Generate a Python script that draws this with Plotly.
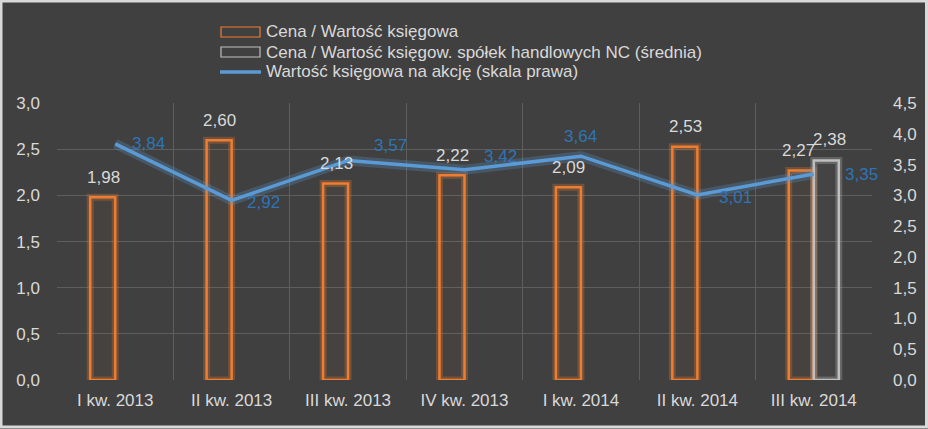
import plotly.graph_objects as go

categories = ["I kw. 2013", "II kw. 2013", "III kw. 2013", "IV kw. 2013", "I kw. 2014", "II kw. 2014", "III kw. 2014"]
pbv_company = [1.98, 2.60, 2.13, 2.22, 2.09, 2.53, 2.27]
pbv_nc_avg = [None, None, None, None, None, None, 2.38]
bv_per_share = [3.84, 2.92, 3.57, 3.42, 3.64, 3.01, 3.35]

series_names = [
    "Cena / Wartość księgowa",
    "Cena / Wartość księgow. spółek handlowych NC (średnia)",
    "Wartość księgowa na akcję (skala prawa)",
]

FONT = "Liberation Sans Narrow, Arial Narrow, sans-serif"
TXT = "#d9d9d9"
ORANGE = "#ed7d31"
GREY = "#bfbfbf"
BLUE = "#5b9bd5"
LBLUE = "#2e75b6"
BG = "#404040"

def fmt(v):
    return f"{v:.2f}".replace(".", ",")

BW = 0.215
fig = go.Figure()

# glow layers
fig.add_trace(go.Bar(x=categories, y=pbv_company, offset=-BW, width=BW,
                     marker=dict(color="rgba(0,0,0,0)", line=dict(color="rgba(237,125,49,0.28)", width=7)),
                     showlegend=False, hoverinfo="skip"))
fig.add_trace(go.Bar(x=categories, y=pbv_nc_avg, offset=0, width=BW,
                     marker=dict(color="rgba(0,0,0,0)", line=dict(color="rgba(191,191,191,0.28)", width=7)),
                     showlegend=False, hoverinfo="skip"))

fig.add_trace(go.Bar(x=categories, y=pbv_company, offset=-BW, width=BW, name=series_names[0],
                     marker=dict(color="rgba(237,125,49,0.04)", line=dict(color=ORANGE, width=2.5)),
                     showlegend=False))
fig.add_trace(go.Bar(x=categories, y=pbv_nc_avg, offset=0, width=BW, name=series_names[1],
                     marker=dict(color="rgba(191,191,191,0.04)", line=dict(color=GREY, width=2.5)),
                     showlegend=False))

fig.add_trace(go.Scatter(x=categories, y=bv_per_share, yaxis="y2", mode="lines",
                         line=dict(color="rgba(91,155,213,0.25)", width=10), showlegend=False, hoverinfo="skip"))
fig.add_trace(go.Scatter(x=categories, y=bv_per_share, yaxis="y2", mode="lines", name=series_names[2],
                         line=dict(color=BLUE, width=3.5), showlegend=False))

# bar value labels
for i, (c, v) in enumerate(zip(categories, pbv_company)):
    dx = -15 if i == len(categories) - 1 else -12
    fig.add_annotation(x=c, y=v, text=fmt(v), showarrow=False, xshift=dx, yshift=20,
                       font=dict(color=TXT, size=17, family=FONT))
for c, v in zip(categories, pbv_nc_avg):
    if v is not None:
        fig.add_annotation(x=c, y=v, text=fmt(v), showarrow=False, xshift=16, yshift=21,
                           font=dict(color=TXT, size=17, family=FONT))

# line value labels (pixel offsets relative to points)
label_offsets = [(33, 0), (32, -2), (42, 15), (36, 13), (0, 20), (38, -3), (48, -1)]
for c, v, (dx, dy) in zip(categories, bv_per_share, label_offsets):
    fig.add_annotation(x=c, y=v, yref="y2", text=fmt(v), showarrow=False, xshift=dx, yshift=dy,
                       font=dict(color=LBLUE, size=17, family=FONT))

# manual legend
W, H = 815.0, 277.0
def px_x(px):
    return (px - 57) / W
def px_y(py):
    return (380 - py) / H

rows = [32, 52, 72]
fig.add_shape(type="rect", xref="paper", yref="paper", x0=px_x(221), x1=px_x(260), y0=px_y(37), y1=px_y(27),
              line=dict(color=ORANGE, width=1.2), fillcolor="rgba(0,0,0,0)")
fig.add_shape(type="rect", xref="paper", yref="paper", x0=px_x(221), x1=px_x(260), y0=px_y(57), y1=px_y(47),
              line=dict(color=GREY, width=1.2), fillcolor="rgba(0,0,0,0)")
fig.add_shape(type="line", xref="paper", yref="paper", x0=px_x(220), x1=px_x(261), y0=px_y(72), y1=px_y(72),
              line=dict(color=BLUE, width=3.5))
for name, r in zip(series_names, rows):
    fig.add_annotation(xref="paper", yref="paper", x=px_x(264), y=px_y(r), text=name, showarrow=False,
                       xanchor="left", yanchor="middle", font=dict(color=TXT, size=17, family=FONT))

# border
fig.add_shape(type="rect", xref="paper", yref="paper", x0=px_x(1), x1=px_x(926.5), y0=px_y(427), y1=px_y(1),
              line=dict(color="#d9d9d9", width=3), fillcolor="rgba(0,0,0,0)", layer="below")

fig.update_layout(
    width=928, height=429,
    margin=dict(l=57, r=56, t=103, b=49),
    paper_bgcolor=BG, plot_bgcolor=BG,
    barmode="overlay",
    separators=", ",
    font=dict(family=FONT, color=TXT, size=17),
    showlegend=False,
    xaxis=dict(tickson="boundaries", showgrid=True, gridcolor="#5e5e5e", gridwidth=1,
               showline=False, zeroline=False, ticks="", ticklabelstandoff=8,
               tickfont=dict(size=17, color=TXT, family=FONT), range=[-0.5, 6.5]),
    yaxis=dict(range=[0, 3.003], dtick=0.5, tickformat=".1f", showgrid=True, gridcolor="#5e5e5e",
               zeroline=False, showline=False, ticklabelstandoff=16,
               tickfont=dict(size=17, color=TXT, family=FONT)),
    yaxis2=dict(range=[0, 4.5045], dtick=0.5, tickformat=".1f", overlaying="y", side="right",
                showgrid=False, zeroline=False, showline=False, ticklabelstandoff=20,
                tickfont=dict(size=17, color=TXT, family=FONT)),
)

fig.write_html("out.html")
